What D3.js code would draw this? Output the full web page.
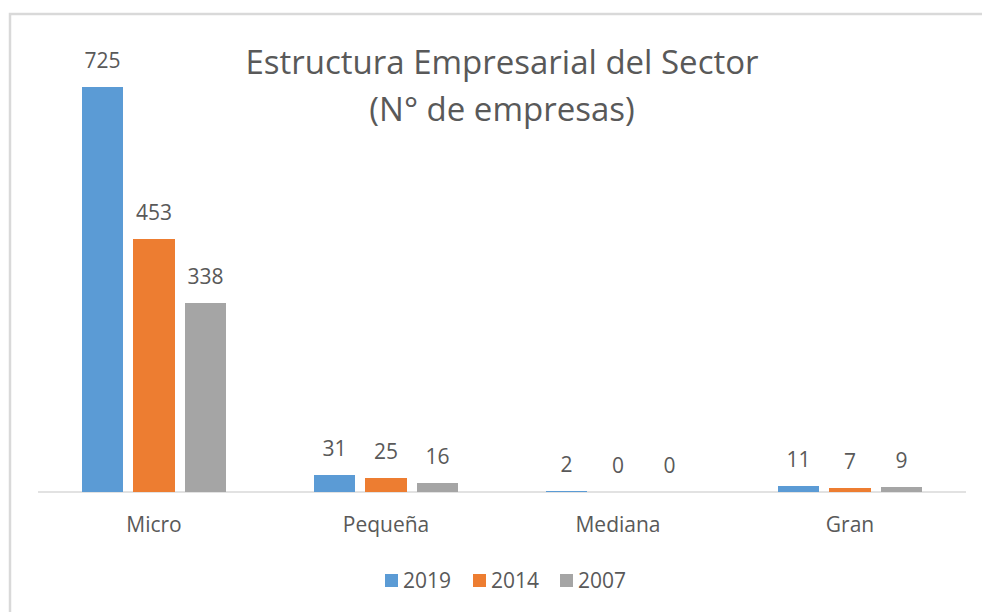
<!DOCTYPE html>
<html lang="es">
<head>
    <meta charset="UTF-8">
    <script src="https://d3js.org/d3.v7.min.js"></script>
    <style>
        body { margin: 0; background: #fff; }
        text { font-family: "Open Sans", sans-serif; fill: #595959; }
    </style>
</head>
<body>
    <svg width="982" height="612"></svg>

    <script>
        // data
        let categories = ["Micro", "Pequeña", "Mediana", "Gran"];
        let series = ["2019", "2014", "2007"];
        let values2019 = [725, 31, 2, 11];
        let values2014 = [453, 25, 0, 7];
        let values2007 = [338, 16, 0, 9];
        let seriesValues = [values2019, values2014, values2007];

        let svg = d3.select("svg");

        // light frame of the chart area
        svg.append("rect")
            .attr("x", 10).attr("y", 14)
            .attr("width", 990).attr("height", 620)
            .attr("fill", "none")
            .attr("stroke", "#d9d9d9")
            .attr("stroke-width", 2.5);

        let left = 38, right = 966, baseline = 492;

        let x0 = d3.scaleBand().domain(categories).range([left, right]).padding(0);
        let groupW = 144;
        let off = (x0.bandwidth() - groupW) / 2;
        let x1 = d3.scaleBand().domain(series).range([off, off + groupW]).paddingInner(0.2);
        let y = d3.scaleLinear().domain([0, 725]).range([baseline, 87]);

        let color = d3.scaleOrdinal().domain(series).range(["#5b9bd5", "#ed7d31", "#a5a5a5"]);

        // flatten into one record per bar
        let rows = [];
        categories.forEach((c, i) => {
            series.forEach((s, j) => rows.push({ cat: c, ser: s, v: seriesValues[j][i] }));
        });

        // title
        let title = svg.append("text")
            .attr("x", 502).attr("text-anchor", "middle")
            .style("font-size", "33px");
        title.append("tspan").attr("x", 502).attr("y", 74).text("Estructura Empresarial del Sector");
        title.append("tspan").attr("x", 502).attr("y", 121).text("(N° de empresas)");

        // axis line
        svg.append("line")
            .attr("x1", left).attr("x2", right)
            .attr("y1", baseline).attr("y2", baseline)
            .attr("stroke", "#d9d9d9").attr("stroke-width", 1.5);

        let bars = svg.append("g").attr("shape-rendering", "crispEdges");
        bars.selectAll("rect")
            .data(rows.filter(d => d.v > 0))
            .enter().append("rect")
            .attr("x", d => x0(d.cat) + x1(d.ser))
            .attr("width", x1.bandwidth())
            .attr("y", d => Math.min(y(d.v), baseline - 1.5))
            .attr("height", d => Math.max(baseline - y(d.v), 1.5))
            .attr("fill", d => color(d.ser));

        // value labels
        svg.append("g").selectAll("text")
            .data(rows)
            .enter().append("text")
            .attr("x", d => x0(d.cat) + x1(d.ser) + x1.bandwidth() / 2)
            .attr("y", d => y(d.v) - 19)
            .attr("text-anchor", "middle")
            .style("font-size", "21px")
            .text(d => d.v);

        // category labels
        svg.append("g").selectAll("text")
            .data(categories)
            .enter().append("text")
            .attr("x", d => x0(d) + x0.bandwidth() / 2)
            .attr("y", 532)
            .attr("text-anchor", "middle")
            .style("font-size", "21px")
            .text(d => d);

        // legend
        let legendX = [385, 473, 560];
        let legend = svg.append("g").selectAll("g")
            .data(series)
            .enter().append("g")
            .attr("transform", (d, i) => "translate(" + legendX[i] + ",574)");
        legend.append("rect")
            .attr("width", 13).attr("height", 13)
            .attr("fill", d => color(d));
        legend.append("text")
            .attr("x", 18).attr("y", 14)
            .style("font-size", "21px")
            .text(d => d);
    </script>
</body>
</html>
